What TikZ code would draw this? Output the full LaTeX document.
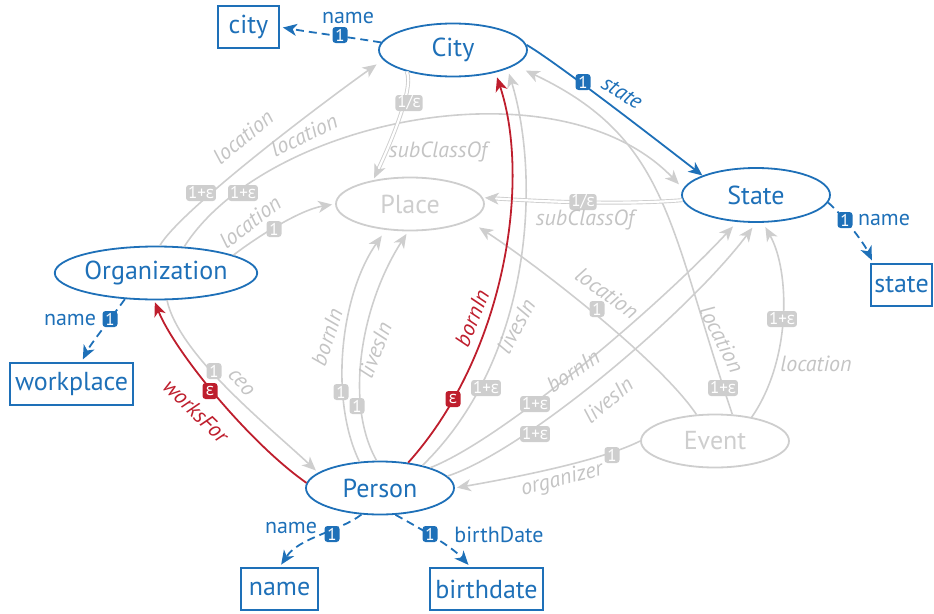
\documentclass[tikz,border=0pt]{standalone}
\usepackage{fontspec}
\setmainfont{PT Sans}
\newfontfamily\epsfont{Open Sans}
\usetikzlibrary{arrows.meta,shapes.geometric}
\definecolor{ontoblue}{RGB}{30,112,184}
\definecolor{ontored}{RGB}{190,30,45}
\definecolor{edgegray}{RGB}{206,206,206}
\definecolor{labelgray}{RGB}{196,196,196}
\newcommand{\epsi}{{\epsfont ε}}
\tikzset{
  >={Stealth[length=14pt,width=12pt,inset=4pt]},
  classnode/.style={ellipse, draw=ontoblue, text=ontoblue, line width=1.8pt, fill=white,
    minimum width=148pt, minimum height=53pt, inner sep=0pt, font=\fontsize{26}{30}\selectfont},
  othernode/.style={classnode, draw=edgegray, text=edgegray},
  litbox/.style={rectangle, draw=ontoblue, text=ontoblue, line width=1.8pt, minimum height=42pt,
    inner sep=0pt, font=\fontsize{26}{30}\selectfont},
  bluelink/.style={draw=ontoblue, line width=1.8pt, ->},
  bluedashed/.style={bluelink, dash pattern=on 8pt off 5pt},
  redlink/.style={draw=ontored, line width=1.8pt, ->},
  graylink/.style={draw=edgegray, line width=1.6pt, ->},
  subclasslink/.style={draw=edgegray, line width=0.9pt, double=white, double distance=2.2pt, ->},
  badge/.style={fill=edgegray, text=white, rounded corners=3pt, inner xsep=2pt, inner ysep=0pt,
    minimum height=16pt, minimum width=15pt, font=\fontsize{17}{17}\selectfont},
  bluebadge/.style={badge, fill=ontoblue},
  redbadge/.style={badge, fill=ontored},
  graylabel/.style={text=labelgray, inner sep=0pt, font=\fontsize{22}{22}\selectfont\itshape},
  bluelabel/.style={text=ontoblue, inner sep=0pt, font=\fontsize{22}{22}\selectfont},
  blueitlabel/.style={text=ontoblue, inner sep=0pt, font=\fontsize{22}{22}\selectfont\itshape},
  redlabel/.style={text=ontored, inner sep=0pt, font=\fontsize{22}{22}\selectfont\itshape},
}
\begin{document}
\begin{tikzpicture}[x=1pt, y=-1pt]
\useasboundingbox (0,0) rectangle (934,613);

% classes
\node[classnode] (City) at (453,50) {City};
\node[classnode, minimum height=54pt] (State) at (756,195) {State};
\node[othernode] (Place) at (410,204) {Place};
\node[classnode, minimum width=164pt] (Org) at (156,273) {Organization};
\node[classnode] (Person) at (380,488) {Person};
\node[othernode] (Event) at (715,441) {Event};

% literals
\node[litbox, minimum width=61pt] (citybox) at (248.5,27) {city};
\node[litbox, minimum width=61pt] (statebox) at (901.5,285) {state};
\node[litbox, minimum width=123pt] (workplace) at (71.5,384) {workplace};
\node[litbox, minimum width=77pt] (namebox) at (279.5,589) {name};
\node[litbox, minimum width=113pt] (birthbox) at (486.5,589) {birthdate};

% gray properties
\draw[graylink, shorten >=8pt] (Org.82) .. controls +(20,-35) and +(-62,44) .. (City.188);
\draw[graylink, shorten >=6pt] (Org.43) .. controls +(82,-128) and +(-124,-129) .. (State.175);
\draw[graylink, shorten >=3pt] (Org.13) .. controls +(22,-17) and +(-36,6) .. (Place.180);
\draw[graylink, shorten >=7pt] (Person.128) .. controls +(-30,-62) and +(-46,66) .. (Place.227);
\draw[graylink, shorten >=3pt] (Person.97) .. controls +(-32,-56) and +(-48,75) .. (Place.266);
\draw[graylink, shorten >=5pt] (Person.28) .. controls +(109,-106) and +(34,112) .. (City.-19);
\draw[graylink, shorten >=6pt] (Person.22) .. controls +(72,-28) and +(-78,84) .. (State.235);
\draw[graylink, shorten >=6pt] (Person.10) .. controls +(79,-26) and +(-66,88) .. (State.270);
\draw[graylink, shorten >=3pt] (Org.292) .. controls +(12,55) and +(-50,-47) .. (Person.166);
\draw[graylink, shorten >=2pt] (Event.180) .. controls +(-41,21) and +(46,-8) .. (Person.0);
\draw[graylink, shorten >=12pt] (Event.125) .. controls +(-37,-55) and +(65,42) .. (Place.-16);
\draw[graylink, shorten >=12pt] (Event.57) .. controls +(-64,-190) and +(154,73) .. (City.-14);
\draw[graylink, shorten >=5pt] (Event.33) .. controls +(40,-58) and +(27,48) .. (State.-76);

% subclass links
\draw[subclasslink, shorten >=2pt] (City.205) .. controls +(8,18) and +(13,-28) .. (Place.147);
\draw[subclasslink, shorten >=2pt] (State.184) .. controls +(-60,5) and +(60,4) .. (Place.5);

% red properties
\draw[redlink, shorten >=2pt] (Person.176) .. controls +(-57,-40) and +(21,52) .. (Org.266);
\draw[redlink, shorten >=5pt] (Person.42) .. controls +(97,-108) and +(36,108) .. (City.-28);

% blue properties
\draw[bluedashed, shorten >=3pt] (City.174) .. controls +(-30,-5) and +(35,6) .. (citybox.east);
\draw[bluelink] (City.4) .. controls +(29,17) and +(-53,-41) .. (State.160);
\draw[bluedashed, shorten >=3pt] (State.-6) .. controls +(12,10) and +(-10,-22) .. ([xshift=3pt]statebox.north west);
\draw[bluedashed, shorten >=3pt] (Org.220) .. controls +(-7,10) and +(9,-18) .. ([xshift=10pt]workplace.north);
\draw[bluedashed, shorten >=3pt] (Person.235) .. controls +(-22,17) and +(20,-30) .. (namebox.north);
\draw[bluedashed, shorten >=3pt] (Person.300) .. controls +(18,10) and +(-20,-22) .. ([xshift=-16pt]birthbox.north);

% cardinality badges
\node[bluebadge] (bdg1) at (340,35) {1};
\node[bluebadge] (bdg2) at (583,82) {1};
\node[bluebadge] (bdg3) at (845,220) {1};
\node[bluebadge] (bdg4) at (110,319) {1};
\node[bluebadge] (bdg5) at (332,534) {1};
\node[bluebadge] (bdg6) at (430,534) {1};
\node[redbadge] (bdg7) at (210,391) {\epsi};
\node[redbadge] (bdg8) at (453,399) {\epsi};
\node[badge] (bdg9) at (201,193) {1+\epsi};
\node[badge] (bdg10) at (243,193) {1+\epsi};
\node[badge] (bdg11) at (274,229) {1};
\node[badge] (bdg12) at (409,103) {1/\epsi};
\node[badge] (bdg13) at (583,202) {1/\epsi};
\node[badge] (bdg14) at (341,392) {1};
\node[badge] (bdg15) at (357,406) {1};
\node[badge] (bdg16) at (486,388) {1+\epsi};
\node[badge] (bdg17) at (535,404) {1+\epsi};
\node[badge] (bdg18) at (535,434) {1+\epsi};
\node[badge] (bdg19) at (214,371) {1};
\node[badge] (bdg20) at (612,455) {1};
\node[badge] (bdg21) at (597,309) {1};
\node[badge] (bdg22) at (723,388) {1+\epsi};
\node[badge] (bdg23) at (782,319) {1+\epsi};

% property names
\node[bluelabel] (t1) at (348,18) {name};
\node[blueitlabel, rotate=-32] (t2) at (622,93) {state};
\node[bluelabel] (t3) at (884,220) {name};
\node[bluelabel] (t4) at (70,320) {name};
\node[bluelabel] (t5) at (291,528) {name};
\node[bluelabel] (t6) at (499,535) {birthDate};
\node[redlabel, rotate=-44] (t7) at (196,411) {worksFor};
\node[redlabel, rotate=68] (t8) at (472,318) {bornIn};
\node[graylabel, rotate=40] (t9) at (243,137) {location};
\node[graylabel, rotate=26] (t10) at (304,135) {location};
\node[graylabel, rotate=38] (t11) at (250,222) {location};
\node[graylabel] (t12) at (438,152) {subClassOf};
\node[graylabel] (t13) at (585,220) {subClassOf};
\node[graylabel, rotate=72] (t14) at (327,337) {bornIn};
\node[graylabel, rotate=69] (t15) at (375,350) {livesIn};
\node[graylabel, rotate=62] (t16) at (516,326) {livesIn};
\node[graylabel, rotate=34] (t17) at (573,371) {bornIn};
\node[graylabel, rotate=40] (t18) at (608,400) {livesIn};
\node[graylabel, rotate=-49] (t19) at (241,383) {ceo};
\node[graylabel, rotate=14] (t20) at (562,480) {organizer};
\node[graylabel, rotate=-36] (t21) at (607,293) {location};
\node[graylabel, rotate=-63] (t22) at (722,339) {location};
\node[graylabel] (t23) at (816,364) {location};
\end{tikzpicture}
\end{document}
